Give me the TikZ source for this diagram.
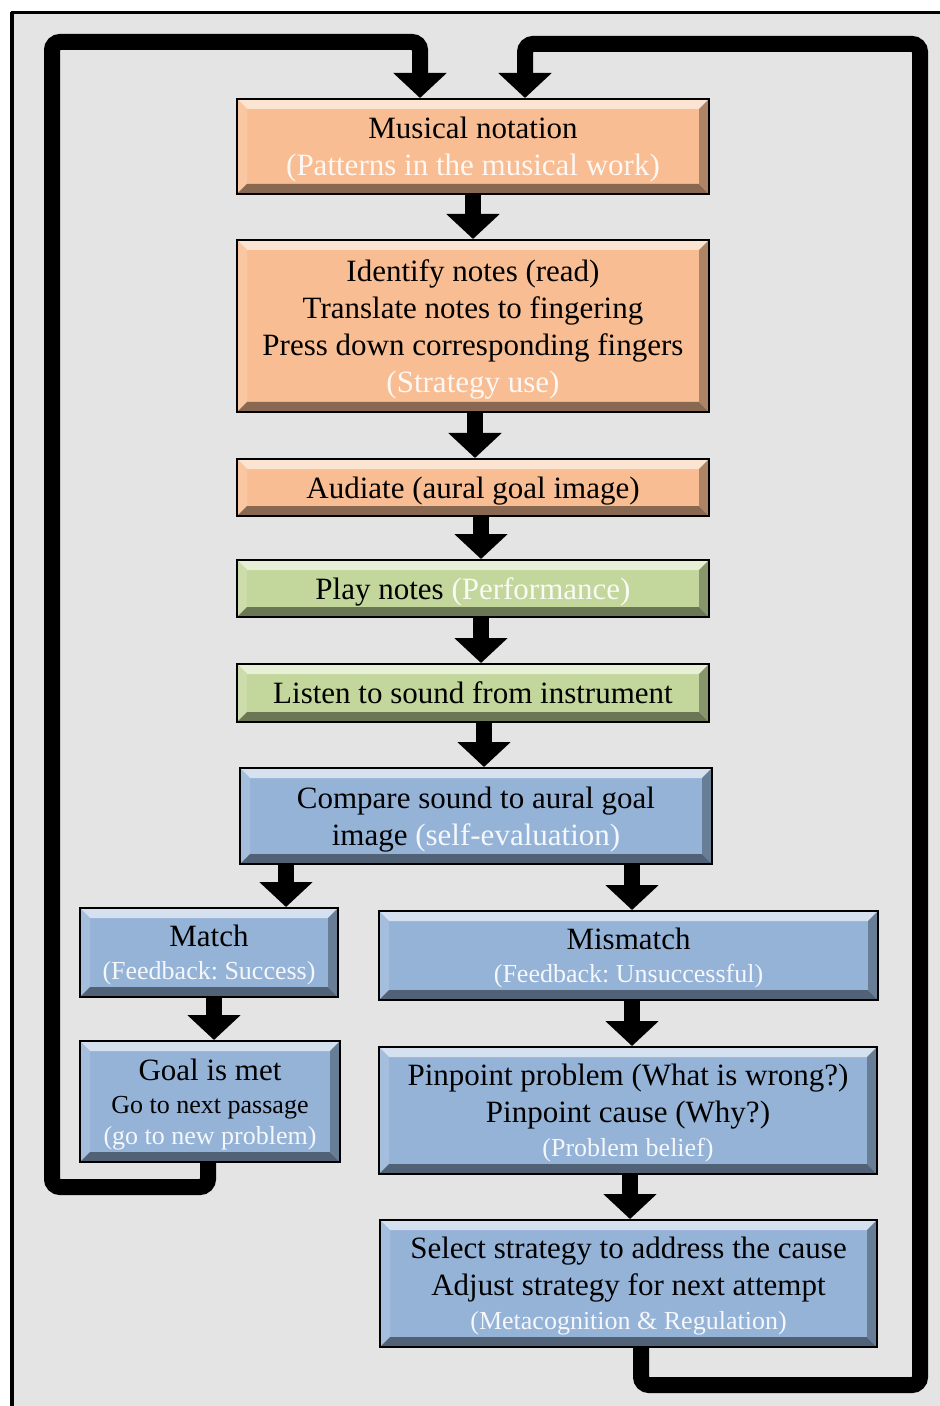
\documentclass[tikz,border=0pt]{standalone}
\usepackage{fontspec}
\setmainfont{Liberation Serif}
\usetikzlibrary{arrows.meta,calc}
\frenchspacing

\definecolor{panel}{HTML}{E4E4E4}
\definecolor{peach}{HTML}{F8BD92}
\definecolor{sage}{HTML}{C3D69B}
\definecolor{sky}{HTML}{95B3D7}

% pale subtitle text tinted by the box colour
\newcommand{\faint}[2]{\textcolor{white!90!#1}{#2}}
\newcommand{\smallsz}{\fontsize{13}{16.5}\selectfont}

\tikzset{
  stepbox/.style={
    draw=black, line width=1pt, fill=#1, align=center, inner sep=0pt, text depth=0pt,
    font=\fontsize{15.5}{18.5}\selectfont,
    path picture={
      \coordinate (bvSW) at (path picture bounding box.south west);
      \coordinate (bvNE) at (path picture bounding box.north east);
      \coordinate (bvNW) at (path picture bounding box.north west);
      \coordinate (bvSE) at (path picture bounding box.south east);
      % bevelled edges: light top/left, dark bottom/right
      \fill[#1!40!white] (bvNW) -- (bvNE) -- ([shift={(-5pt,-5pt)}]bvNE) -- ([shift={(5pt,-5pt)}]bvNW) -- cycle;
      \fill[#1!85!white] (bvNW) -- (bvSW) -- ([shift={(5pt,5pt)}]bvSW) -- ([shift={(5pt,-5pt)}]bvNW) -- cycle;
      \fill[#1!55!black] (bvSW) -- (bvSE) -- ([shift={(-5pt,5pt)}]bvSE) -- ([shift={(5pt,5pt)}]bvSW) -- cycle;
      \fill[#1!70!black] (bvNE) -- (bvSE) -- ([shift={(-5pt,5pt)}]bvSE) -- ([shift={(-5pt,-5pt)}]bvNE) -- cycle;
    }},
  fatarrow/.style={line width=8pt, -{Triangle[width=26pt,length=12.5pt]}},
  loopline/.style={line width=8pt, rounded corners=4pt, -{Triangle[width=26pt,length=12.5pt]}}
}

\begin{document}
\begin{tikzpicture}[x=0.5pt, y=-0.5pt]
\useasboundingbox (0,0) rectangle (940,1406);

% page panel with its frame on the top and left
\fill[white] (0,0) rectangle (940,1406);
\fill[panel] (11,12) rectangle (940,1406);
\draw[line width=1.5pt] (940,12.5) -- (11,12.5);
\draw[line width=2pt] (11.5,1406) -- (11.5,12);

% steps
\node[stepbox=peach, minimum width=236pt, minimum height=47.5pt] (music) at (473,146.5)
  {Musical notation\\\faint{peach}{(Patterns in the musical work)}};
\node[stepbox=peach, minimum width=236pt, minimum height=86pt] (identify) at (473,326)
  {Identify notes (read)\\Translate notes to fingering\\Press down corresponding fingers\\\faint{peach}{(Strategy use)}};
\node[stepbox=peach, minimum width=236pt, minimum height=28.5pt] (audiate) at (473,487.5)
  {Audiate (aural goal image)};
\node[stepbox=sage, minimum width=236pt, minimum height=28.5pt] (play) at (473,588.5)
  {Play notes \faint{sage}{(Performance)}};
\node[stepbox=sage, minimum width=236pt, minimum height=29pt] (listen) at (473,693)
  {Listen to sound from instrument};
\node[stepbox=sky, minimum width=236pt, minimum height=48pt] (compare) at (476,816)
  {Compare sound to aural goal\\image \faint{sky}{(self-evaluation)}};
\node[stepbox=sky, minimum width=129pt, minimum height=44.5pt] (match) at (209,952.5)
  {Match\\[-2pt]\smallsz\faint{sky}{(Feedback: Success)}};
\node[stepbox=sky, minimum width=249.5pt, minimum height=44.5pt] (mismatch) at (628.5,955.5)
  {Mismatch\\[-2pt]\smallsz\faint{sky}{(Feedback: Unsuccessful)}};
\node[stepbox=sky, minimum width=130pt, minimum height=60.5pt] (goal) at (210,1101.5)
  {Goal is met\\[-2pt]\smallsz Go to next passage\\[-3pt]\smallsz\faint{sky}{(go to new problem)}};
\node[stepbox=sky, minimum width=249pt, minimum height=63.5pt] (pinpoint) at (628,1110.5)
  {Pinpoint problem (What is wrong?)\\Pinpoint cause (Why?)\\[-1.5pt]\smallsz\faint{sky}{(Problem belief)}};
\node[stepbox=sky, minimum width=248.5pt, minimum height=63.5pt] (select) at (628.5,1283.5)
  {Select strategy to address the cause\\Adjust strategy for next attempt\\[-1.5pt]\smallsz\faint{sky}{(Metacognition \& Regulation)}};

% main flow
\draw[fatarrow] (music.south) -- (identify.north);
\draw[fatarrow] ([xshift=1pt]identify.south) -- ([xshift=1pt]audiate.north);
\draw[fatarrow] ([xshift=4pt]audiate.south) -- ([xshift=4pt]play.north);
\draw[fatarrow] ([xshift=4pt]play.south) -- ([xshift=4pt]listen.north);
\draw[fatarrow] ([xshift=5.5pt]listen.south) -- ([xshift=4pt]compare.north);
\draw[fatarrow] ([xshift=-95pt]compare.south) -- ([xshift=38.5pt]match.north);
\draw[fatarrow] ([xshift=78pt]compare.south) -- ([xshift=1.75pt]mismatch.north);
\draw[fatarrow] ([xshift=2.5pt]match.south) -- ([xshift=2pt]goal.north);
\draw[fatarrow] ([xshift=1.75pt]mismatch.south) -- ([xshift=2pt]pinpoint.north);
\draw[fatarrow] ([xshift=1pt]pinpoint.south) -- ([xshift=0.75pt]select.north);

% feedback loops back to the notation
\coordinate (lb) at (52,1187);
\coordinate (lt) at (52,42);
\draw[loopline] ([xshift=-1pt]goal.south) |- (lb) -- (lt) -| ([xshift=-26.5pt]music.north);
\coordinate (rb) at (920,1385);
\coordinate (rt) at (920,44);
\draw[loopline] ([xshift=6.25pt]select.south) |- (rb) -- (rt) -| ([xshift=26pt]music.north);
\end{tikzpicture}
\end{document}
